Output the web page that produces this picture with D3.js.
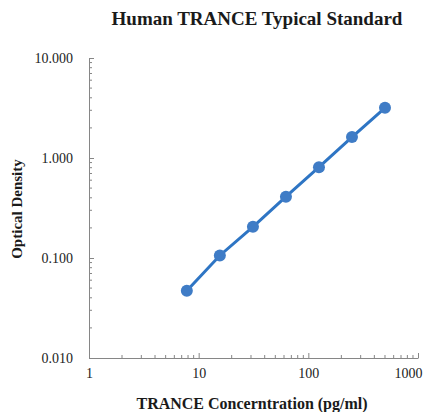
<!DOCTYPE html>
<html>
<head>
<meta charset="utf-8">
<script src="https://cdn.jsdelivr.net/npm/d3@7"></script>
<style>
  body { margin: 0; background: #fff; }
  text { font-family: "Liberation Serif", "Times New Roman", serif; }
</style>
</head>
<body>
<div id="chart"></div>
<script>
var concentrations = [7.8, 15.6, 31.25, 62.5, 125, 250, 500];
var densities = [0.047, 0.106, 0.205, 0.41, 0.81, 1.62, 3.18];
var xTickValues = [1, 10, 100, 1000];
var yTickValues = [0.01, 0.1, 1, 10];

var totalWidth = 433,
    totalHeight = 412,
    margin = {top: 58, right: 15, bottom: 54, left: 89},
    width = totalWidth - margin.left - margin.right,
    height = totalHeight - margin.top - margin.bottom;

var svg = d3.select("#chart")
    .append("svg")
    .attr("width", totalWidth)
    .attr("height", totalHeight);

var chartgroup = svg.append("g")
    .attr("transform", "translate(" + margin.left + "," + margin.top + ")");

var x = d3.scaleLog().domain([1, 1000]).range([0, width]);
var y = d3.scaleLog().domain([0.01, 10]).range([height, 0]);

var axisColor = "#868686";

// minor ticks, every 1..9 within each decade
var xMinor = [], yMinor = [];
[1, 10, 100].forEach(d => { for (var k = 2; k < 10; k++) xMinor.push(d * k); });
[0.01, 0.1, 1].forEach(d => { for (var k = 2; k < 10; k++) yMinor.push(d * k); });

chartgroup.append("g")
    .selectAll("line")
    .data(xMinor)
    .enter()
    .append("line")
    .attr("x1", d => x(d)).attr("x2", d => x(d))
    .attr("y1", height).attr("y2", height - 3)
    .attr("stroke", axisColor);

chartgroup.append("g")
    .selectAll("line")
    .data(yMinor)
    .enter()
    .append("line")
    .attr("x1", 0).attr("x2", 3)
    .attr("y1", d => y(d)).attr("y2", d => y(d))
    .attr("stroke", axisColor);

var xAxis = chartgroup.append("g")
    .attr("transform", "translate(0," + height + ")")
    .call(d3.axisBottom(x).tickValues(xTickValues).tickFormat(d3.format("d")).tickSizeInner(-5).tickSizeOuter(0).tickPadding(10));

var yAxis = chartgroup.append("g")
    .call(d3.axisLeft(y).tickValues(yTickValues).tickFormat(d3.format(".3f")).tickSizeInner(-5).tickSizeOuter(0).tickPadding(16));

[xAxis, yAxis].forEach(a => {
    a.select(".domain").attr("stroke", axisColor);
    a.selectAll(".tick line").attr("stroke", axisColor);
    a.selectAll(".tick text")
        .style("font-family", "'Liberation Serif', serif")
        .style("font-size", "14px")
        .attr("fill", "#222");
});
// last x label sits a little inside the plot edge
xAxis.selectAll(".tick text").filter(d => d === 1000).attr("dx", "-10");

var line = d3.line()
    .x((d, i) => x(concentrations[i]))
    .y(d => y(d));

chartgroup.append("path")
    .datum(densities)
    .attr("d", line)
    .attr("fill", "none")
    .attr("stroke", "#2e75c4")
    .attr("stroke-width", 3);

chartgroup.append("g")
    .selectAll("circle")
    .data(densities)
    .enter()
    .append("circle")
    .attr("cx", (d, i) => x(concentrations[i]))
    .attr("cy", d => y(d))
    .attr("r", 6)
    .style("fill", "#3f7cc6");

svg.append("text")
    .attr("x", 257)
    .attr("y", 25)
    .attr("text-anchor", "middle")
    .style("font-size", "19px")
    .style("font-weight", "bold")
    .attr("fill", "#1a1a1a")
    .text("Human TRANCE Typical Standard");

svg.append("text")
    .attr("x", 252)
    .attr("y", 409)
    .attr("text-anchor", "middle")
    .style("font-size", "16px")
    .style("font-weight", "bold")
    .attr("fill", "#1a1a1a")
    .text("TRANCE Concerntration (pg/ml)");

svg.append("text")
    .attr("transform", "translate(22,209) rotate(-90)")
    .attr("text-anchor", "middle")
    .style("font-size", "15px")
    .style("font-weight", "bold")
    .attr("fill", "#1a1a1a")
    .text("Optical Density");
</script>
</body>
</html>
